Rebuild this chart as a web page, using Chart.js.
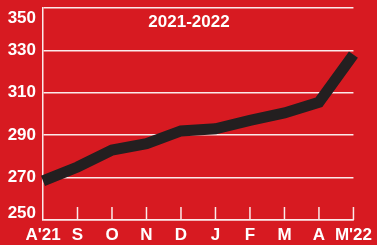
<!DOCTYPE html>
<html>
<head>
<meta charset="utf-8">
<script src="https://cdn.jsdelivr.net/npm/chart.js@4"></script>
<style>
  html, body { margin: 0; padding: 0; background: #d71a21; }
  #wrap { position: relative; width: 377px; height: 245px; }
</style>
</head>
<body>
<div id="wrap"><canvas id="chart" width="377" height="245"></canvas></div>
<script>
// chart values
const months = ["A'21", 'S', 'O', 'N', 'D', 'J', 'F', 'M', 'A', "M'22"];
const values = [268.5, 275, 283, 286, 292, 293, 297, 300.5, 305.5, 328];
const yTicks = [250, 270, 290, 310, 330, 350];
const periodLabel = '2021-2022';

const FONT = "'Liberation Sans', Arial, sans-serif";
const WHITE = '#fbeaea';

// small inward tick marks on the x axis + the period label
const extrasPlugin = {
    id: 'extras',
    afterDraw(chart) {
        const { ctx, chartArea, scales } = chart;
        const x = scales.x;
        ctx.save();
        ctx.strokeStyle = WHITE;
        ctx.lineWidth = 1.5;
        x.ticks.forEach((t, i) => {
            if (i === 0) return;
            const px = x.getPixelForTick(i);
            ctx.beginPath();
            ctx.moveTo(px, chartArea.bottom);
            ctx.lineTo(px, chartArea.bottom - 13);
            ctx.stroke();
        });
        ctx.fillStyle = '#ffffff';
        ctx.font = 'bold 17px ' + FONT;
        ctx.textAlign = 'center';
        ctx.textBaseline = 'middle';
        ctx.fillText(periodLabel, 189, 22);
        ctx.restore();
    }
};

new Chart(document.getElementById('chart'), {
    type: 'line',
    data: {
        labels: months,
        datasets: [{
            data: values,
            borderColor: '#231f20',
            borderWidth: 11,
            borderCapStyle: 'butt',
            borderJoinStyle: 'miter',
            pointRadius: 0,
            tension: 0,
            fill: false
        }]
    },
    options: {
        responsive: false,
        animation: false,
        layout: { padding: { top: 8, right: 20, bottom: 0, left: 0 } },
        plugins: { legend: { display: false }, tooltip: { enabled: false } },
        scales: {
            x: {
                offset: false,
                afterFit(scale) { scale.height = 25; },
                grid: { display: false, drawTicks: false },
                border: { display: true, color: WHITE, width: 1.5 },
                ticks: {
                    color: '#ffffff',
                    padding: 5,
                    maxRotation: 0,
                    autoSkip: false,
                    font: { family: FONT, size: 17, weight: 'bold' }
                }
            },
            y: {
                min: 250,
                max: 350,
                afterFit(scale) {
                    scale.width = 43;
                    scale.paddingTop = 0;
                    scale.paddingBottom = 0;
                },
                afterBuildTicks(scale) { scale.ticks = yTicks.map(v => ({ value: v })); },
                grid: { color: WHITE, lineWidth: 1.5, drawTicks: false },
                border: { display: true, color: WHITE, width: 1.5 },
                ticks: {
                    color: '#ffffff',
                    padding: 7,
                    autoSkip: false,
                    // top and bottom labels sit inside the axis range
                    callback(v) {
                        if (v === 350) return ['', String(v)];
                        if (v === 250) return [String(v), ''];
                        return String(v);
                    },
                    font(ctx) {
                        const v = ctx.tick && ctx.tick.value;
                        const lh = v === 350 ? 1.18 : v === 250 ? 0.78 : 1.2;
                        return { family: FONT, size: 17, weight: 'bold', lineHeight: lh };
                    }
                }
            }
        }
    },
    plugins: [extrasPlugin]
});
</script>
</body>
</html>
